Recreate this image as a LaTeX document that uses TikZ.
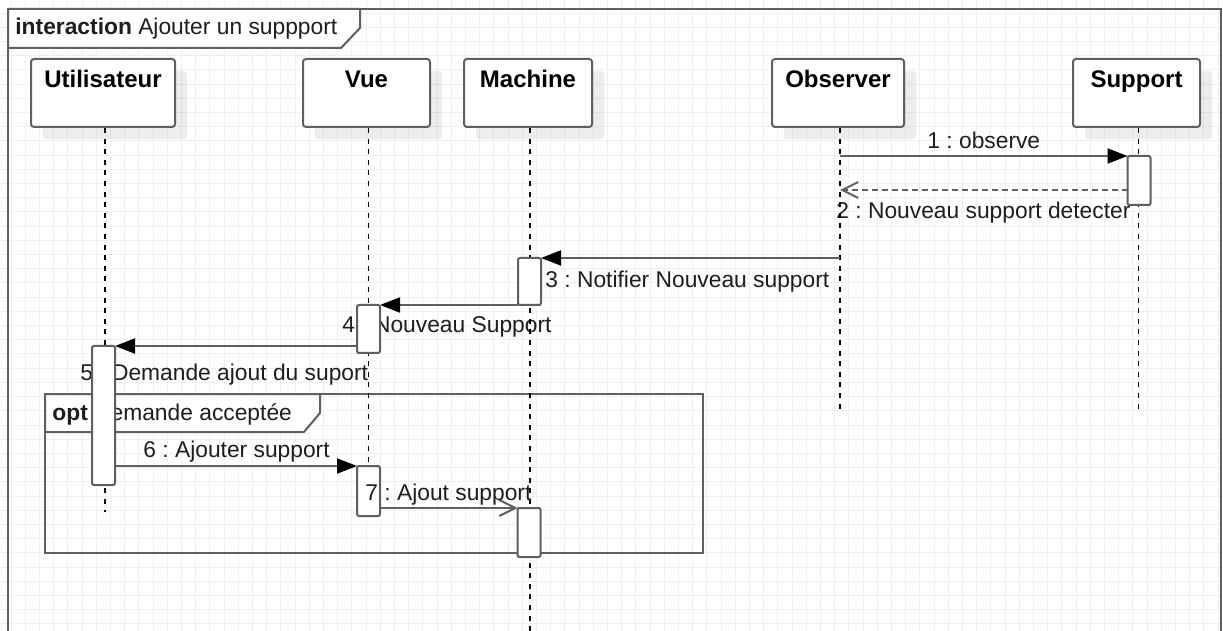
\documentclass[tikz,border=0pt]{standalone}
\usepackage{fontspec}
\setmainfont{Liberation Sans}
\usetikzlibrary{arrows.meta, shadows}

\definecolor{linegray}{RGB}{95,95,95}
\definecolor{gridgray}{RGB}{240,240,240}
\definecolor{txtgray}{RGB}{30,30,30}

\tikzset{
	frame/.style={draw=linegray, line width=1pt},
	lifehead/.style={draw=linegray, line width=1pt, fill=white, rounded corners=1.5pt,
		inner sep=0pt, anchor=north, minimum height=34pt, text height=14.5pt, text depth=19.5pt,
		font=\fontsize{12}{14}\selectfont\bfseries,
		drop shadow={shadow xshift=6pt, shadow yshift=-6pt, fill=black, opacity=0.07}},
	lifeline/.style={black, line width=0.8pt, dash pattern=on 2.5pt off 2.8pt},
	act/.style={draw=linegray, line width=1pt, fill=white, rounded corners=1pt,
		inner sep=0pt, outer sep=0pt, anchor=north, minimum width=11.5pt},
	call/.style={draw=linegray, line width=1pt, -{Triangle[length=10pt, width=7.5pt, color=black]}},
	reply/.style={draw=linegray, line width=1pt, dash pattern=on 3pt off 2pt,
		-{Straight Barb[length=8pt, width=8pt, color=linegray]}},
	async/.style={draw=linegray, line width=1pt, -{Straight Barb[length=8pt, width=8pt, color=linegray]}},
	msglabel/.style={anchor=base west, inner sep=0pt, text=txtgray}
}

\begin{document}
\frenchspacing
\begin{tikzpicture}[x=0.5pt, y=-0.5pt, font=\fontsize{11.4}{13}\selectfont]
		\useasboundingbox[fill=white] (0,0) rectangle (1223,631);
		% background grid
		\foreach \i in {0, 1, ..., 86} {
			\draw[gridgray, line width=0.5pt] ({11+14.2*\i},0) -- ++(0,631);
		}
		\foreach \j in {0, 1, ..., 44} {
			\draw[gridgray, line width=0.5pt] (0,{-1+14.2*\j}) -- ++(1223,0);
		}

		% interaction frame
		\draw[frame] (8,640) -- (8,9) -- (1221,9) -- (1221,640);
		\draw[frame, fill=white] (8,9) -- (360,9) -- (360,28) -- (341,48) -- (8,48) -- cycle;
		\node[msglabel] (title) at (15,35) {\textbf{interaction} Ajouter un suppport};

		% lifeline heads
		\node[lifehead, minimum width=72pt] (user) at (103,58) {Utilisateur};
		\node[lifehead, minimum width=63.5pt] (vue) at (366.5,58) {Vue};
		\node[lifehead, minimum width=64pt] (machine) at (528,58) {Machine};
		\node[lifehead, minimum width=66pt] (observer) at (838,58) {Observer};
		\node[lifehead, minimum width=63.5pt] (support) at (1136.5,58) {Support};

		% opt fragment
		\draw[frame] (45,394) rectangle (703,553);
		\draw[frame, fill=white] (45,394) -- (320,394) -- (320,413) -- (304,432) -- (45,432) -- cycle;
		\node[msglabel] (opt) at (52,421) {\textbf{opt} Demande acceptée};

		% message labels
		\node[msglabel] (l1) at (927,149) {1 : observe};
		\node[msglabel] (l2) at (836,219) {2 : Nouveau support detecter};
		\node[msglabel] (l3) at (545,287) {3 : Notifier Nouveau support};
		\node[msglabel] (l4) at (342,333) {4 : Nouveau Support};
		\node[msglabel] (l5) at (80,380) {5 : Demande ajout du suport};
		\node[msglabel] (l6) at (143,458) {6 : Ajouter support};

		% lifelines
		\path ([xshift=1pt]user.south) ++(0,384) coordinate (userEnd);
		\path ([xshift=1pt]vue.south) ++(0,389) coordinate (vueEnd);
		\path ([xshift=1pt]machine.south) ++(0,510) coordinate (machineEnd);
		\path ([xshift=1pt]observer.south) ++(0,281) coordinate (observerEnd);
		\path ([xshift=1pt]support.south) ++(0,281) coordinate (supportEnd);
		\draw[lifeline] ([xshift=1pt]user.south) -- (userEnd);
		\draw[lifeline] ([xshift=1pt]vue.south) -- (vueEnd);
		\draw[lifeline] ([xshift=1pt]machine.south) -- (machineEnd);
		\draw[lifeline] ([xshift=1pt]observer.south) -- (observerEnd);
		\draw[lifeline] ([xshift=1pt]support.south) -- (supportEnd);

		% activations
		\node[act, minimum height=24.5pt] (aSupport) at (1139,156) {};
		\node[act, minimum height=23.5pt] (aMachine1) at (529.5,258) {};
		\node[act, minimum height=24pt] (aVue1) at (368.5,305) {};
		\node[act, minimum height=69.5pt] (aUser) at (103.5,346) {};
		\node[act, minimum height=25pt] (aVue2) at (368.5,466) {};
		\node[act, minimum height=24.5pt] (aMachine2) at (529,508) {};

		% messages
		\coordinate (m1) at (840,156);
		\coordinate (m2) at (840,190);
		\coordinate (m3) at (840,258);
		\draw[call] (m1) -- (aSupport.north west);
		\draw[reply] ([yshift=-17pt]aSupport.north west) -- (m2);
		\draw[call] (m3) -- (aMachine1.north east);
		\draw[call] (aMachine1.south west) -- (aVue1.north east);
		\draw[call] ([yshift=-20.5pt]aVue1.north west) -- (aUser.north east);
		\draw[call] ([yshift=-60pt]aUser.north east) -- (aVue2.north west);
		\draw[async] ([yshift=-21pt]aVue2.north east) -- (aMachine2.north west);

		\node[msglabel] (l7) at (365,501) {7 : Ajout support};
	\end{tikzpicture}
\end{document}
